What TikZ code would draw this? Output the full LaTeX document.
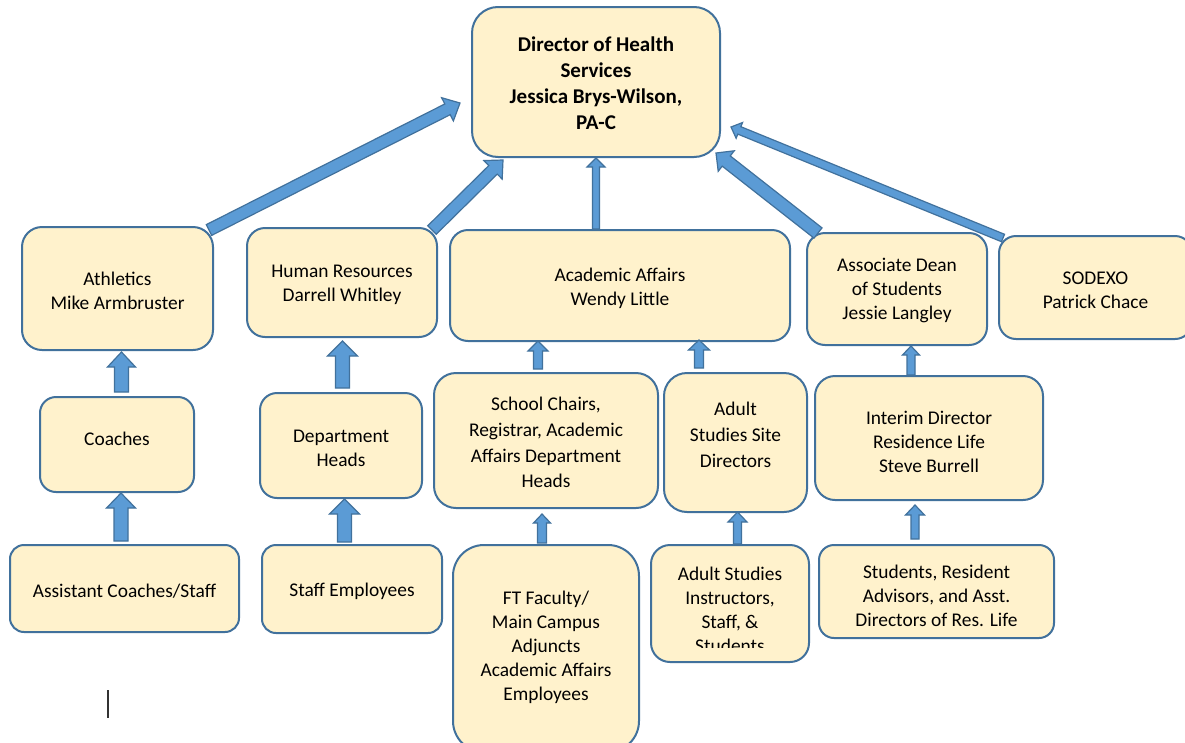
\documentclass[tikz,border=0pt]{standalone}
\usepackage{fontspec}
\setmainfont{Carlito}
\usetikzlibrary{calc}
\definecolor{boxfill}{HTML}{FFF2CC}
\definecolor{boxline}{HTML}{41719C}
\definecolor{arrfill}{HTML}{5B9BD5}
\tikzset{
  box/.style={rectangle, draw=boxline, fill=boxfill, line width=2pt, inner sep=0pt, outer sep=0pt},
  txt/.style={align=center, inner sep=0pt, font=\fontsize{19.4}{24}\selectfont, text=black, yshift=-2pt},
  arr/.style={draw=boxline, fill=arrfill, line width=1.2pt, line join=miter},
}
% #1 name, #2 x1, #3 y1, #4 x2, #5 y2, #6 corner radius, #7 text centre y, #8 text options, #9 text
\newcommand\bx[9]{%
  \node[box, minimum width={#4-#2}, minimum height={#5-#3}, rounded corners=#6pt] (#1) at ({(#2+#4)/2},{(#3+#5)/2}) {};
  \node[txt,#8] (#1t) at ({(#2+#4)/2},#7) {#9};
}
% block arrow: #1 tail anchor, #2 offset, #3 tip anchor, #4 offset, #5 shaft half width, #6 head half width, #7 head length
\newcommand\conn[7]{%
  \coordinate (ct) at ($(#1)+(#2)$);
  \coordinate (ch) at ($(#3)+(#4)$);
  \coordinate (hb) at ($(ch)!#7pt!(ct)$);
  \draw[arr] ($(ct)!#5pt!90:(ch)$) -- ($(hb)!#5pt!90:(ch)$) -- ($(hb)!#6pt!90:(ch)$) -- (ch)
     -- ($(hb)!#6pt!-90:(ch)$) -- ($(hb)!#5pt!-90:(ch)$) -- ($(ct)!#5pt!-90:(ch)$) -- cycle;
}
\begin{document}
\begin{tikzpicture}[x=1pt,y=-1pt]
\useasboundingbox (0,0) rectangle (1185,742);
\clip (0,0) rectangle (1185,742);
\fill[white] (0,0) rectangle (1185,742);

\bx{dir}{472}{7}{720}{157}{26}{84}{font=\fontsize{21}{26}\selectfont\bfseries, yshift=3pt}{Director of Health\\Services\\Jessica Brys-Wilson,\\PA-C}
\bx{ath}{22}{227}{213}{350}{20}{289}{}{Athletics\\Mike Armbruster}
\bx{hr}{247}{228}{437}{337}{18}{283.3}{}{Human Resources\\Darrell Whitley}
\bx{aa}{450}{230}{790}{341}{18}{286.5}{}{Academic Affairs\\Wendy Little}
\bx{dean}{807}{233}{987}{345}{18}{288.7}{}{Associate Dean\\of Students\\Jessie Langley}
\bx{sod}{999}{236}{1192}{339}{17}{288}{}{SODEXO\\Patrick Chace}
\bx{coach}{40}{397}{194}{492}{16}{436.7}{}{Coaches}
\bx{dept}{260}{393}{422}{498}{17}{446.7}{}{Department\\Heads}
\bx{chairs}{434}{373}{658}{508}{22}{440.5}{font=\fontsize{19.4}{25.7}\selectfont}{School Chairs,\\Registrar, Academic\\Affairs Department\\Heads}
\bx{site}{664}{373}{807}{512}{23}{433}{font=\fontsize{19.4}{26}\selectfont}{Adult\\Studies Site\\Directors}
\bx{interim}{815}{376}{1043}{500}{20}{439.7}{}{Interim Director\\Residence Life\\Steve Burrell}
\bx{asst}{10}{545}{239}{632}{14}{589.3}{}{Assistant Coaches/Staff}
\bx{staff}{262}{545}{442}{633}{14}{589.3}{}{Staff Employees}
\bx{ft}{453}{545}{639}{752}{31}{645.6}{}{FT Faculty/\\Main Campus\\Adjuncts\\Academic Affairs\\Employees}
\node[box, minimum width=158pt, minimum height=117pt, rounded corners=19pt] (instr) at (730,603.5) {};
\begin{scope}
  \clip (651,545) rectangle (809,647.5);
  \node[txt] (instrt) at (730,607.8) {Adult Studies\\Instructors,\\Staff, \&\\Students};
\end{scope}
\bx{stud}{819}{545}{1054}{638}{15}{594.3}{}{Students, Resident\\Advisors, and Asst.\\Directors of Res. Life}

\conn{ath.north east}{-4,3}{dir.west}{-12,21}{6}{13}{14}
\conn{hr.north east}{-5,2}{dir.south west}{31,3}{6}{13}{14}
\conn{aa.north}{-24,-1}{dir.south}{0,1}{3.5}{9}{9}
\conn{dean.north west}{11,0}{dir.south east}{-4,-4}{6.5}{13}{13}
\conn{sod.north west}{4,2}{dir.east}{11,45}{4}{8.5}{9}
\conn{coach.north}{4.5,-5}{ath.south}{4,2}{7}{14}{15}
\conn{asst.north}{-3.5,-4}{coach.south}{4,1}{7}{14.5}{15}
\conn{dept.north}{1.5,-5}{hr.south}{0.5,4}{7}{15}{15}
\conn{staff.north}{-7.5,-3}{dept.south}{3.5,1}{7}{15}{15}
\conn{chairs.north}{-8,-4}{aa.south}{-82,0}{4.5}{10}{10}
\conn{site.north}{-36.5,-5}{aa.south}{79,-1}{4.5}{10.5}{10}
\conn{ft.north}{-4,-2}{chairs.south}{-4,6}{4.5}{8.5}{9}
\conn{instr.north}{7.5,-1}{site.south}{2,0}{4}{9.5}{10}
\conn{interim.north}{-18,-1}{dean.south}{14,1}{4}{8.5}{9}
\conn{stud.north}{-21.5,-6}{interim.south}{-14,5}{4}{9.5}{10}

\draw[line width=1.6pt, black!80] (108,690) -- (108,718);
\end{tikzpicture}
\end{document}
